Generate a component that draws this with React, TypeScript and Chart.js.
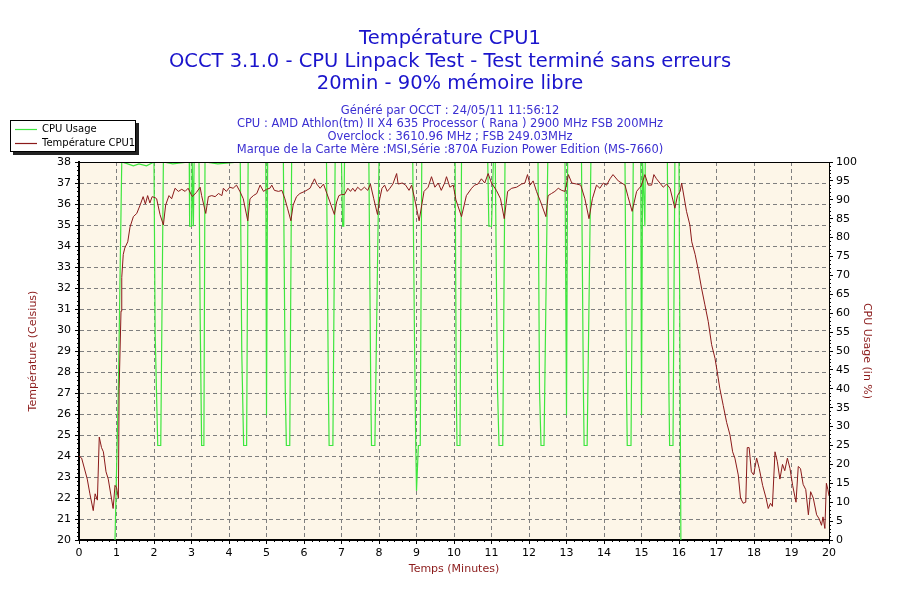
import React, { useEffect, useRef } from "react";
import { Chart, registerables } from "chart.js";

Chart.register(...registerables);

const titleLines = [
  "Température CPU1",
  "OCCT 3.1.0 - CPU Linpack Test - Test terminé sans erreurs",
  "20min - 90% mémoire libre",
];
const infoLines = [
  "Généré par OCCT : 24/05/11 11:56:12",
  "CPU : AMD Athlon(tm) II X4 635 Processor ( Rana ) 2900 MHz FSB 200MHz",
  "Overclock : 3610.96 MHz ; FSB 249.03MHz",
  "Marque de la Carte Mère :MSI,Série :870A Fuzion Power Edition (MS-7660)",
];
const legendLabels = ["CPU Usage", "Température CPU1"];
const xTitle = "Temps (Minutes)";
const yTitle = "Température (Celsius)";
const y1Title = "CPU Usage (in %)";

const tempTimes = [
  0, 0.07, 0.22, 0.29, 0.38, 0.43, 0.49, 0.54, 0.6, 0.65, 0.72, 0.78, 0.91, 0.96, 1.0, 1.05, 1.07, 1.12, 1.14, 1.18,
  1.22, 1.3, 1.36, 1.45, 1.54, 1.63, 1.71, 1.77, 1.83, 1.89, 1.95, 2.03, 2.07, 2.16, 2.25, 2.31, 2.4, 2.47, 2.56, 2.65,
  2.74, 2.83, 2.91, 3.02, 3.13, 3.23, 3.27, 3.38, 3.45, 3.54, 3.63, 3.72, 3.81, 3.85, 3.93, 4.02, 4.11, 4.2, 4.29, 4.38,
  4.5, 4.56, 4.65, 4.74, 4.83, 4.92, 5.0, 5.09, 5.14, 5.21, 5.32, 5.41, 5.49, 5.56, 5.65, 5.71, 5.8, 5.89, 6.02, 6.16,
  6.28, 6.34, 6.43, 6.52, 6.61, 6.69, 6.81, 6.87, 6.93, 7.0, 7.08, 7.17, 7.24, 7.3, 7.36, 7.43, 7.52, 7.61, 7.7, 7.77,
  7.86, 7.96, 8.02, 8.08, 8.15, 8.22, 8.29, 8.37, 8.47, 8.51, 8.62, 8.71, 8.8, 8.87, 8.95, 9.07, 9.14, 9.2, 9.31, 9.4,
  9.49, 9.58, 9.66, 9.75, 9.8, 9.89, 9.98, 10.05, 10.2, 10.33, 10.47, 10.55, 10.64, 10.73, 10.82, 10.91, 11.0, 11.13, 11.24, 11.34,
  11.43, 11.54, 11.67, 11.8, 11.89, 11.96, 12.03, 12.11, 12.2, 12.31, 12.45, 12.51, 12.6, 12.69, 12.78, 12.87, 12.96, 13.05, 13.14, 13.27,
  13.38, 13.49, 13.6, 13.69, 13.8, 13.89, 13.98, 14.07, 14.16, 14.24, 14.38, 14.56, 14.64, 14.75, 14.87, 14.96, 15.0, 15.09, 15.18, 15.27,
  15.33, 15.4, 15.49, 15.58, 15.67, 15.76, 15.89, 15.96, 16.03, 16.07, 16.2, 16.29, 16.34, 16.43, 16.52, 16.6, 16.69, 16.78, 16.87, 16.96,
  17.02, 17.09, 17.18, 17.27, 17.36, 17.43, 17.49, 17.58, 17.64, 17.71, 17.78, 17.82, 17.87, 17.93, 17.99, 18.07, 18.14, 18.23, 18.32, 18.38,
  18.44, 18.49, 18.56, 18.62, 18.69, 18.76, 18.82, 18.89, 18.96, 19.03, 19.12, 19.18, 19.24, 19.31, 19.38, 19.45, 19.51, 19.58, 19.67, 19.74,
  19.8, 19.84, 19.89, 19.93, 19.97, 20.0,
];
const tempValues = [
  24.0, 23.9, 22.9, 22.2, 21.4, 22.2, 21.9, 24.9, 24.4, 24.2, 23.25, 22.9, 21.5, 22.6, 22.5, 22.0, 27.2, 30.9, 32.5, 33.6,
  33.9, 34.2, 34.9, 35.4, 35.55, 35.95, 36.35, 36.0, 36.4, 36.05, 36.35, 36.3, 36.25, 35.5, 35.0, 35.95, 36.4, 36.25, 36.75, 36.6,
  36.7, 36.6, 36.75, 36.35, 36.55, 36.8, 36.4, 35.55, 36.35, 36.4, 36.35, 36.5, 36.4, 36.75, 36.6, 36.8, 36.75, 36.9, 36.6, 36.25,
  35.2, 36.25, 36.4, 36.5, 36.9, 36.6, 36.7, 36.75, 36.9, 36.65, 36.6, 36.65, 36.25, 35.8, 35.2, 35.95, 36.35, 36.5, 36.6, 36.75,
  37.2, 36.95, 36.75, 36.95, 36.5, 36.1, 35.5, 36.1, 36.4, 36.45, 36.45, 36.75, 36.6, 36.75, 36.6, 36.8, 36.65, 36.8, 36.65, 36.95,
  36.25, 35.5, 36.25, 36.75, 36.9, 36.6, 36.75, 36.95, 37.45, 36.95, 37.0, 36.9, 36.65, 36.9, 36.25, 35.2, 35.95, 36.6, 36.8, 37.3,
  36.8, 37.0, 36.65, 37.0, 37.3, 36.8, 36.9, 36.2, 35.4, 36.4, 36.75, 36.9, 36.95, 37.2, 37.0, 37.45, 37.0, 36.65, 36.25, 35.3,
  36.6, 36.75, 36.8, 36.95, 37.0, 37.4, 36.9, 37.1, 36.6, 36.1, 35.4, 36.4, 36.5, 36.6, 36.75, 36.65, 36.6, 37.4, 37.0, 36.95,
  36.9, 36.25, 35.3, 36.25, 36.9, 36.75, 37.0, 36.9, 37.2, 37.4, 37.1, 36.9, 36.35, 35.65, 36.6, 36.8, 36.9, 37.4, 36.9, 36.9,
  37.4, 37.2, 37.0, 36.8, 36.95, 36.75, 35.8, 36.4, 36.6, 37.0, 35.65, 35.0, 34.2, 33.6, 32.8, 32.0, 31.2, 30.4, 29.3, 28.65,
  28.0, 27.2, 26.4, 25.6, 25.0, 24.2, 23.9, 23.1, 22.0, 21.75, 21.8, 24.4, 24.4, 23.25, 23.1, 23.9, 23.4, 22.6, 22.0, 21.5,
  21.75, 21.6, 24.2, 23.75, 22.9, 23.6, 23.3, 23.9, 23.4, 22.6, 21.8, 23.5, 23.4, 22.65, 22.4, 21.2, 22.3, 22.0, 21.2, 21.0,
  20.7, 21.1, 20.55, 22.7, 22.4, 22.1,
];

const cpuTimes = [
  0.96, 1.05, 1.14, 1.3, 1.45, 1.6, 1.8, 2.0, 2.03, 2.1, 2.18, 2.25, 2.5, 2.94, 2.95, 3.0, 3.02, 3.05, 3.07, 3.2,
  3.23, 3.27, 3.33, 3.36, 3.7, 4.3, 4.34, 4.39, 4.47, 4.51, 4.98, 5.0, 5.03, 5.45, 5.5, 5.53, 5.62, 5.67, 6.6, 6.65,
  6.67, 6.77, 6.83, 7.0, 7.03, 7.06, 7.08, 7.73, 7.78, 7.8, 7.89, 8.0, 8.9, 8.95, 8.98, 9.0, 9.05, 9.1, 9.14, 10.03,
  10.06, 10.08, 10.16, 10.2, 10.9, 10.93, 11.0, 11.05, 11.1, 11.16, 11.2, 11.3, 11.36, 12.24, 12.28, 12.32, 12.4, 12.5, 12.96, 13.0,
  13.03, 13.4, 13.45, 13.47, 13.55, 13.65, 14.56, 14.6, 14.62, 14.72, 14.78, 14.98, 15.0, 15.03, 15.09, 15.1, 15.69, 15.73, 15.75, 15.84,
  15.89, 16.0, 16.05,
];
const cpuValues = [
  0, 40, 100, 99.5, 99, 99.5, 99, 100, 55, 25, 25, 100, 99.5, 100, 83, 83, 100, 83, 100, 100,
  60, 25, 25, 100, 99.5, 100, 50, 25, 25, 100, 100, 33, 100, 100, 40, 25, 25, 100, 100, 40,
  25, 25, 100, 100, 83, 83, 100, 100, 40, 25, 25, 100, 100, 50, 25, 13, 25, 25, 100, 100,
  40, 25, 25, 100, 100, 83, 83, 100, 100, 40, 25, 25, 100, 100, 40, 25, 25, 100, 100, 33,
  100, 100, 40, 25, 25, 100, 100, 40, 25, 25, 100, 100, 33, 100, 83, 100, 100, 40, 25, 25,
  100, 100, 0,
];

const FONT = "DejaVu Sans";
const TITLE_COLOR = "#1a14cc";
const INFO_COLOR = "#3b2fd2";
const AXIS_TITLE_COLOR = "#8b1a1a";
const TEMP_COLOR = "#8b1a1a";
const CPU_COLOR = "#3ee63e";
const PLOT_BG = "#fdf6e8";
const GRID_COLOR = "#7f7f7f";

const decorPlugin = {
  id: "decor",
  beforeDraw(chart: any) {
    const { ctx, chartArea: a } = chart;
    ctx.save();
    ctx.fillStyle = "#ffffff";
    ctx.fillRect(0, 0, chart.width, chart.height);
    ctx.fillStyle = PLOT_BG;
    ctx.fillRect(a.left, a.top, a.right - a.left, a.bottom - a.top);
    ctx.restore();
  },
  afterDraw(chart: any) {
    const { ctx, chartArea: a, scales } = chart;
    ctx.save();
    // top frame line
    ctx.strokeStyle = "#000";
    ctx.lineWidth = 1;
    ctx.beginPath();
    ctx.moveTo(a.left, a.top + 0.5);
    ctx.lineTo(a.right, a.top + 0.5);
    ctx.stroke();

    // minor ticks
    ctx.beginPath();
    const y = scales.y;
    for (let i = 0; i <= (38 - 20) * 5; i++) {
      if (i % 5 === 0) continue;
      const p = Math.round(y.getPixelForValue(20 + i / 5)) + 0.5;
      ctx.moveTo(a.left - 2, p);
      ctx.lineTo(a.left, p);
    }
    const x = scales.x;
    for (let i = 0; i <= 20 * 5; i++) {
      if (i % 5 === 0) continue;
      const p = Math.round(x.getPixelForValue(i / 5)) + 0.5;
      ctx.moveTo(p, a.bottom);
      ctx.lineTo(p, a.bottom + 2);
    }
    const y1 = scales.y1;
    for (let i = 0; i <= 100; i++) {
      if (i % 5 === 0) continue;
      const p = Math.round(y1.getPixelForValue(i)) + 0.5;
      ctx.moveTo(a.right, p);
      ctx.lineTo(a.right + 2, p);
    }
    ctx.stroke();

    // titles
    ctx.textAlign = "center";
    ctx.textBaseline = "alphabetic";
    ctx.fillStyle = TITLE_COLOR;
    ctx.font = `19.5px "${FONT}"`;
    const cx = chart.width / 2;
    titleLines.forEach((t, i) => ctx.fillText(t, cx, 44 + i * 22.5));
    ctx.fillStyle = INFO_COLOR;
    ctx.font = `11.5px "${FONT}"`;
    infoLines.forEach((t, i) => ctx.fillText(t, cx, 114 + i * 13));

    // legend
    const lx = 10, ly = 120, lw = 126, lh = 32;
    ctx.fillStyle = "#222";
    ctx.fillRect(lx + 3, ly + 3, lw, lh);
    ctx.fillStyle = "#fff";
    ctx.fillRect(lx, ly, lw, lh);
    ctx.strokeStyle = "#000";
    ctx.lineWidth = 1;
    ctx.strokeRect(lx + 0.5, ly + 0.5, lw - 1, lh - 1);
    const colors = [CPU_COLOR, TEMP_COLOR];
    ctx.textAlign = "left";
    ctx.textBaseline = "middle";
    ctx.font = `10px "${FONT}"`;
    legendLabels.forEach((t, i) => {
      const yy = ly + 9.5 + i * 14;
      ctx.strokeStyle = colors[i];
      ctx.lineWidth = 1.2;
      ctx.beginPath();
      ctx.moveTo(lx + 5, yy);
      ctx.lineTo(lx + 27, yy);
      ctx.stroke();
      ctx.fillStyle = "#000";
      ctx.fillText(t, lx + 32, yy);
    });
    ctx.restore();
  },
};

export default function App() {
  const ref = useRef<HTMLCanvasElement | null>(null);
  useEffect(() => {
    document.body.style.margin = "0";
    const canvas = ref.current;
    if (!canvas) return;
    const tempData = tempTimes.map((t, i) => ({ x: t, y: tempValues[i] }));
    const cpuData = cpuTimes.map((t, i) => ({ x: t, y: cpuValues[i] }));
    const tickFont = { family: FONT, size: 11 };
    const titleFont = { family: FONT, size: 11 };
    const chart = new Chart(canvas, {
      type: "line",
      data: {
        datasets: [
          {
            label: legendLabels[0],
            data: cpuData,
            yAxisID: "y1",
            borderColor: CPU_COLOR,
            borderWidth: 1.2,
            pointRadius: 0,
            tension: 0,
            order: 1,
          },
          {
            label: legendLabels[1],
            data: tempData,
            yAxisID: "y",
            borderColor: TEMP_COLOR,
            borderWidth: 1,
            pointRadius: 0,
            tension: 0,
            order: 0,
          },
        ],
      },
      options: {
        responsive: false,
        animation: false,
        events: [],
        layout: { padding: { top: 162, left: 0, right: 0, bottom: 0 } },
        plugins: { legend: { display: false }, tooltip: { enabled: false }, title: { display: false } },
        scales: {
          x: {
            type: "linear",
            min: 0,
            max: 20,
            afterFit: (s: any) => {
              s.height = 60;
            },
            ticks: { stepSize: 1, autoSkip: false, maxRotation: 0, color: "#000", font: tickFont, padding: 3 },
            grid: { color: GRID_COLOR, lineWidth: 1, tickLength: 4, tickColor: "#000", tickBorderDash: [] },
            border: { display: true, color: "#000", width: 2, dash: [4, 3] },
            title: { display: true, text: xTitle, color: AXIS_TITLE_COLOR, font: titleFont, padding: { top: 0, bottom: 24 } },
          },
          y: {
            type: "linear",
            position: "left",
            min: 20,
            max: 38,
            afterFit: (s: any) => {
              s.width = 79;
            },
            ticks: { stepSize: 1, autoSkip: false, color: "#000", font: tickFont, padding: 4 },
            grid: { color: GRID_COLOR, lineWidth: 1, tickLength: 4, tickColor: "#000", tickBorderDash: [] },
            border: { display: true, color: "#000", width: 2, dash: [4, 3] },
            title: { display: true, text: yTitle, color: AXIS_TITLE_COLOR, font: titleFont, padding: { top: 27, bottom: 0 } },
          },
          y1: {
            type: "linear",
            position: "right",
            min: 0,
            max: 100,
            afterFit: (s: any) => {
              s.width = 71;
            },
            ticks: { stepSize: 5, autoSkip: false, color: "#000", font: tickFont, padding: 3 },
            grid: { drawOnChartArea: false, color: "#000", tickLength: 4, tickColor: "#000" },
            border: { display: true, color: "#000", width: 1 },
            title: { display: true, text: y1Title, color: AXIS_TITLE_COLOR, font: titleFont, padding: { top: 27, bottom: 0 } },
          },
        },
      },
      plugins: [decorPlugin],
    } as any);
    return () => chart.destroy();
  }, []);
  return (
    <div style={{ width: 900, height: 600 }}>
      <canvas ref={ref} width={900} height={600} style={{ display: "block" }} />
    </div>
  );
}
